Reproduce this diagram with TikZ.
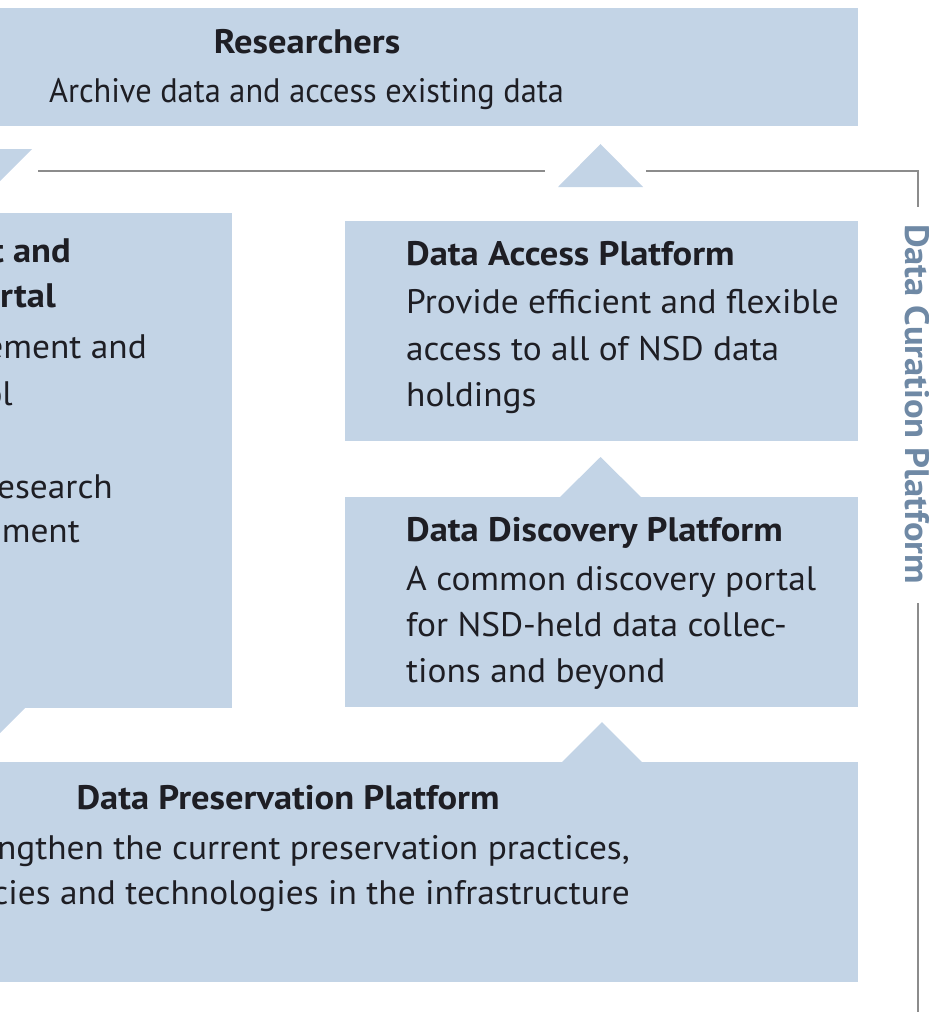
\documentclass[tikz,border=0pt]{standalone}
\usepackage{fontspec}
\setmainfont{PT Sans}
% widened and narrowed cuts of the same family
\newfontfamily\headfont{PT Sans}[FakeStretch=1.075]
\newfontfamily\bodyfont{PT Sans}[FakeStretch=1.04]
\newfontfamily\leadfont{PT Sans}[FakeStretch=0.952]
\definecolor{boxfill}{RGB}{195,212,230}
\definecolor{rulegray}{RGB}{140,140,140}
\definecolor{sidetext}{RGB}{111,137,165}
\definecolor{ink}{RGB}{30,30,36}

\begin{document}
\begin{tikzpicture}[x=1pt,y=-1pt,
  panel/.style={fill=boxfill, draw=none, inner sep=0pt, anchor=north west},
  arrowhead/.style={fill=boxfill, draw=none},
  headline/.style={font=\headfont\fontsize{34}{46}\selectfont\bfseries, text=ink, inner sep=0pt},
  bodyline/.style={font=\bodyfont\fontsize{34}{46}\selectfont, text=ink, inner sep=0pt},
  leadline/.style={font=\leadfont\fontsize{34}{46}\selectfont, text=ink, inner sep=0pt},
  flowrule/.style={draw=rulegray, line width=1.6pt},
]
\useasboundingbox (0,0) rectangle (929,1012);
\clip (0,0) rectangle (929,1012);

% panels
\node[panel, minimum width=918pt, minimum height=118pt] (res) at (-60,8) {};
\node[panel, minimum width=292pt, minimum height=495pt] (mgmt) at (-60,213) {};
\node[panel, minimum width=513pt, minimum height=220pt] (access) at (345,221) {};
\node[panel, minimum width=513pt, minimum height=210pt] (disc) at (345,497) {};
\node[panel, minimum width=918pt, minimum height=220pt] (pres) at (-60,762) {};

% arrowheads between the layers
\fill[arrowhead] (-53,149) -- (32,149) -- (-10.5,191.5) -- cycle;
\fill[arrowhead] (558,187) -- (600.5,144) -- (643,187) -- cycle;
\fill[arrowhead] (560,497) -- (600.5,457) -- (641,497) -- cycle;
\fill[arrowhead] (562,762) -- (602,722) -- (642,762) -- cycle;
\fill[arrowhead] (-59,707) -- (26,707) -- (-16.5,749.5) -- cycle;

% curation bracket
\node[headline, text=sidetext, rotate=-90] (dcp) at (917,404) {Data Curation Platform};
\coordinate (ruleL) at (38,171);
\coordinate (ruleM) at (545,171);
\coordinate (ruleN) at (646,171);
\coordinate (ruleTop) at (918,207);
\coordinate (ruleBot) at (918,603);
\coordinate (ruleEnd) at (918,1014);
\draw[flowrule] (ruleL) -- (ruleM);
\draw[flowrule] (ruleN) -| (ruleTop);
\draw[flowrule] (ruleBot) -- (ruleEnd);

% researchers
\node[headline, anchor=base] (resT) at (307,53) {Researchers};
\node[leadline, anchor=base] (resB) at (306.5,102) {Archive data and access existing data};

% management portal (partly outside the frame)
\node[headline, anchor=base east] (m1) at (71,262) {t and};
\node[headline, anchor=base east] (m2) at (56,307) {rtal};
\node[bodyline, anchor=base east] (m3) at (147,358) {ement and};
\node[bodyline, anchor=base east] (m4) at (13,405) {ol};
\node[bodyline, anchor=base east] (m5) at (113,498) {esearch};
\node[bodyline, anchor=base east] (m6) at (80,542) {ment};

% data access
\node[headline, anchor=base west] (a1) at (406,265) {Data Access Platform};
\node[bodyline, anchor=base west] (a2) at (406,313) {Provide efficient and flexible};
\node[bodyline, anchor=base west] (a3) at (406,360) {access to all of NSD data};
\node[bodyline, anchor=base west] (a4) at (406,406) {holdings};

% data discovery
\node[headline, anchor=base west] (d1) at (406,541) {Data Discovery Platform};
\node[bodyline, anchor=base west] (d2) at (406,590) {A common discovery portal};
\node[bodyline, anchor=base west] (d3) at (406,636) {for NSD-held data collec-};
\node[bodyline, anchor=base west] (d4) at (406,682) {tions and beyond};

% data preservation
\node[headline, anchor=base] (p1) at (288,809) {Data Preservation Platform};
\node[bodyline, anchor=base east] (p2) at (630,859) {ngthen the current preservation practices,};
\node[bodyline, anchor=base east] (p3) at (630,904) {cies and technologies in the infrastructure};
\end{tikzpicture}
\end{document}
